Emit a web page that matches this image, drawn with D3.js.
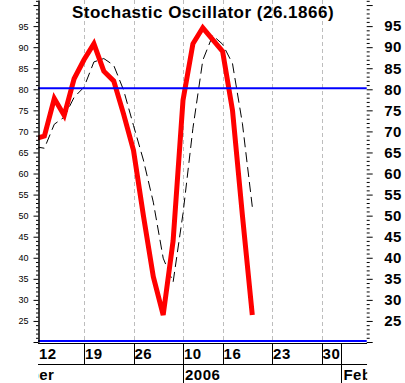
<!DOCTYPE html>
<html>
<meta charset="utf-8">
<script src="https://d3js.org/d3.v7.min.js"></script>
<title>Stochastic Oscillator</title>
<style>
  body { margin: 0; background: #fff; }
  text { font-family: "Liberation Sans", Arial, sans-serif; }
</style>
<body>
<div id="chart"></div>
<script>
// %K (red) and %D (dashed), one value per trading day
var kValues = [68.2, 68.9, 77.8, 73.8, 82.5, 87.0, 90.8, 84.3, 82.0, 74.1, 65.5, 50.0,
               35.5, 26.4, 44.0, 77.4, 90.8, 94.6, 91.8, 89.0, 75.0, 50.1, 26.4];
var dValues = [66.4, 66.0, 71.7, 73.4, 78.1, 80.5, 86.5, 87.3, 85.7, 79.8, 71.4, 63.2,
               53.2, 39.9, 34.2, 50.5, 70.7, 86.9, 92.8, 90.7, 86.1, 71.9, 52.1];

// date ticks (trading day index -> label)
var dayTicks  = [0, 5, 10, 15, 19, 24, 29];
var dayLabels = ["12", "19", "26", "10", "16", "23", "30"];
var monthTicks  = [2, 15, 31];
var monthLabels = ["December", "2006", "Feb"];

// y labels and reference levels
var yLabels = [25, 30, 35, 40, 45, 50, 55, 60, 65, 70, 75, 80, 85, 90, 95];
var levels = [80, 20];

var W = 405, H = 383;
var plotLeft = 38, plotRight = 366.7, plotTop = 0, plotBottom = 342;

var x = d3.scaleLinear().domain([0, 33.5]).range([34.5, 34.5 + 9.9 * 33.5]);
var y = d3.scaleLinear().domain([20, 101.2]).range([plotBottom, plotTop]);

var svg = d3.select("#chart").append("svg")
    .attr("width", W)
    .attr("height", H);

svg.append("rect").attr("width", W).attr("height", H).attr("fill", "#fff");

var defs = svg.append("defs");
defs.append("clipPath").attr("id", "plotclip")
  .append("rect")
    .attr("x", plotLeft).attr("y", 0)
    .attr("width", plotRight - plotLeft).attr("height", plotBottom + 1);
defs.append("clipPath").attr("id", "axisclip")
  .append("rect")
    .attr("x", plotLeft).attr("y", plotBottom)
    .attr("width", plotRight - plotLeft + 0.5).attr("height", H - plotBottom);

var plot = svg.append("g").attr("clip-path", "url(#plotclip)");

// dashed grey gridlines at the date ticks
plot.selectAll(".grid")
    .data(dayTicks.filter(function(d) { return d > 0; }))
  .enter().append("line")
    .attr("x1", function(d) { return Math.round(x(d)) + 0.5; })
    .attr("x2", function(d) { return Math.round(x(d)) + 0.5; })
    .attr("y1", 0)
    .attr("y2", plotBottom)
    .style("stroke", "#bdbdbd")
    .style("stroke-dasharray", "4,3");

// blue reference lines
svg.selectAll(".level")
    .data(levels)
  .enter().append("line")
    .attr("x1", plotLeft)
    .attr("x2", plotRight)
    .attr("y1", function(d) { return y(d) - 1; })
    .attr("y2", function(d) { return y(d) - 1; })
    .style("stroke", "#0000ff")
    .style("stroke-width", 2);

var line = d3.line()
    .x(function(d, i) { return x(i); })
    .y(function(d) { return y(d); });

// %D dashed
plot.append("path")
    .datum(dValues)
    .attr("d", line)
    .attr("fill", "none")
    .style("stroke", "#000")
    .style("stroke-width", 1)
    .style("stroke-dasharray", "10,5");

// %K thick red
plot.append("path")
    .datum(kValues)
    .attr("d", line)
    .attr("fill", "none")
    .style("stroke", "#ff0000")
    .style("stroke-width", 5)
    .style("stroke-linejoin", "miter");

// left axis: minor ticks every unit, major every 5
var minor = d3.range(20, 102).filter(function(d) { return d % 5 !== 0; });
var major = d3.range(20, 101, 5);

var leftAxis = svg.append("g").attr("transform", "translate(" + (plotLeft + 0.5) + ",0)");
leftAxis.call(d3.axisLeft(y).tickValues(minor).tickSize(2.5).tickSizeOuter(0).tickFormat(""));
leftAxis.append("g").call(d3.axisLeft(y).tickValues(major).tickSize(5).tickSizeOuter(0)
    .tickFormat(function(d) { return yLabels.indexOf(d) >= 0 ? d : ""; }));
leftAxis.selectAll("path.domain").style("stroke", "#000");
leftAxis.selectAll("text")
    .style("font-size", "9px")
    .style("font-family", "'Liberation Sans', Arial, sans-serif")
    .attr("x", -10)
    .attr("fill", "#000");

// right axis: ticks only, bold labels
var rightAxis = svg.append("g").attr("transform", "translate(" + plotRight + ",0)");
rightAxis.call(d3.axisRight(y).tickValues(minor).tickSize(3).tickSizeOuter(0).tickFormat(""));
rightAxis.append("g").call(d3.axisRight(y).tickValues(major).tickSize(6).tickSizeOuter(0)
    .tickFormat(function(d) { return yLabels.indexOf(d) >= 0 ? d : ""; }));
rightAxis.selectAll("path.domain").remove();
rightAxis.selectAll("text")
    .attr("x", 17.5)
    .style("font-size", "15px")
    .style("font-weight", "bold")
    .style("letter-spacing", "0.5px")
    .style("font-family", "'Liberation Sans', Arial, sans-serif")
    .attr("fill", "#000");

// bottom date axis (two rows)
var xa = svg.append("g").attr("clip-path", "url(#axisclip)");
[343.5, 364.5].forEach(function(yy) {
  xa.append("line")
      .attr("x1", plotLeft).attr("x2", plotRight + 0.5)
      .attr("y1", yy).attr("y2", yy)
      .style("stroke", "#000");
});

xa.selectAll(".dsep")
    .data(dayTicks.filter(function(d) { return x(d) > plotLeft; }))
  .enter().append("line")
    .attr("x1", function(d) { return Math.round(x(d)) + 0.5; })
    .attr("x2", function(d) { return Math.round(x(d)) + 0.5; })
    .attr("y1", 343.5)
    .attr("y2", function(d) { return monthTicks.indexOf(d) >= 0 ? H : 364.5; })
    .style("stroke", "#000");

xa.selectAll(".msep")
    .data(monthTicks.filter(function(d, i) { return i > 0 && dayTicks.indexOf(d) < 0; }))
  .enter().append("line")
    .attr("x1", function(d) { return Math.round(x(d)) + 0.5; })
    .attr("x2", function(d) { return Math.round(x(d)) + 0.5; })
    .attr("y1", 343.5)
    .attr("y2", H)
    .style("stroke", "#000");

xa.selectAll(".dlabel")
    .data(dayTicks)
  .enter().append("text")
    .attr("x", function(d) { return Math.max(x(d), plotLeft) + 1; })
    .attr("y", 358.5)
    .style("font-size", "15px")
    .style("font-weight", "bold")
    .style("letter-spacing", "0.5px")
    .text(function(d, i) { return dayLabels[i]; });

xa.selectAll(".mlabel")
    .data(monthTicks)
  .enter().append("text")
    .attr("x", function(d, i) { return i === 0 ? x(d) : x(d) + 2; })
    .attr("y", 379.5)
    .attr("text-anchor", function(d, i) { return i === 0 ? "end" : "start"; })
    .style("font-size", "15px")
    .style("font-weight", "bold")
    .style("letter-spacing", "0.5px")
    .text(function(d, i) { return monthLabels[i]; });

// title
svg.append("text")
    .attr("x", 203)
    .attr("y", 18)
    .attr("text-anchor", "middle")
    .style("font-size", "17px")
    .style("font-weight", "bold")
    .style("letter-spacing", "0.5px")
    .text("Stochastic Oscillator (26.1866)");
</script>
</body>
</html>
